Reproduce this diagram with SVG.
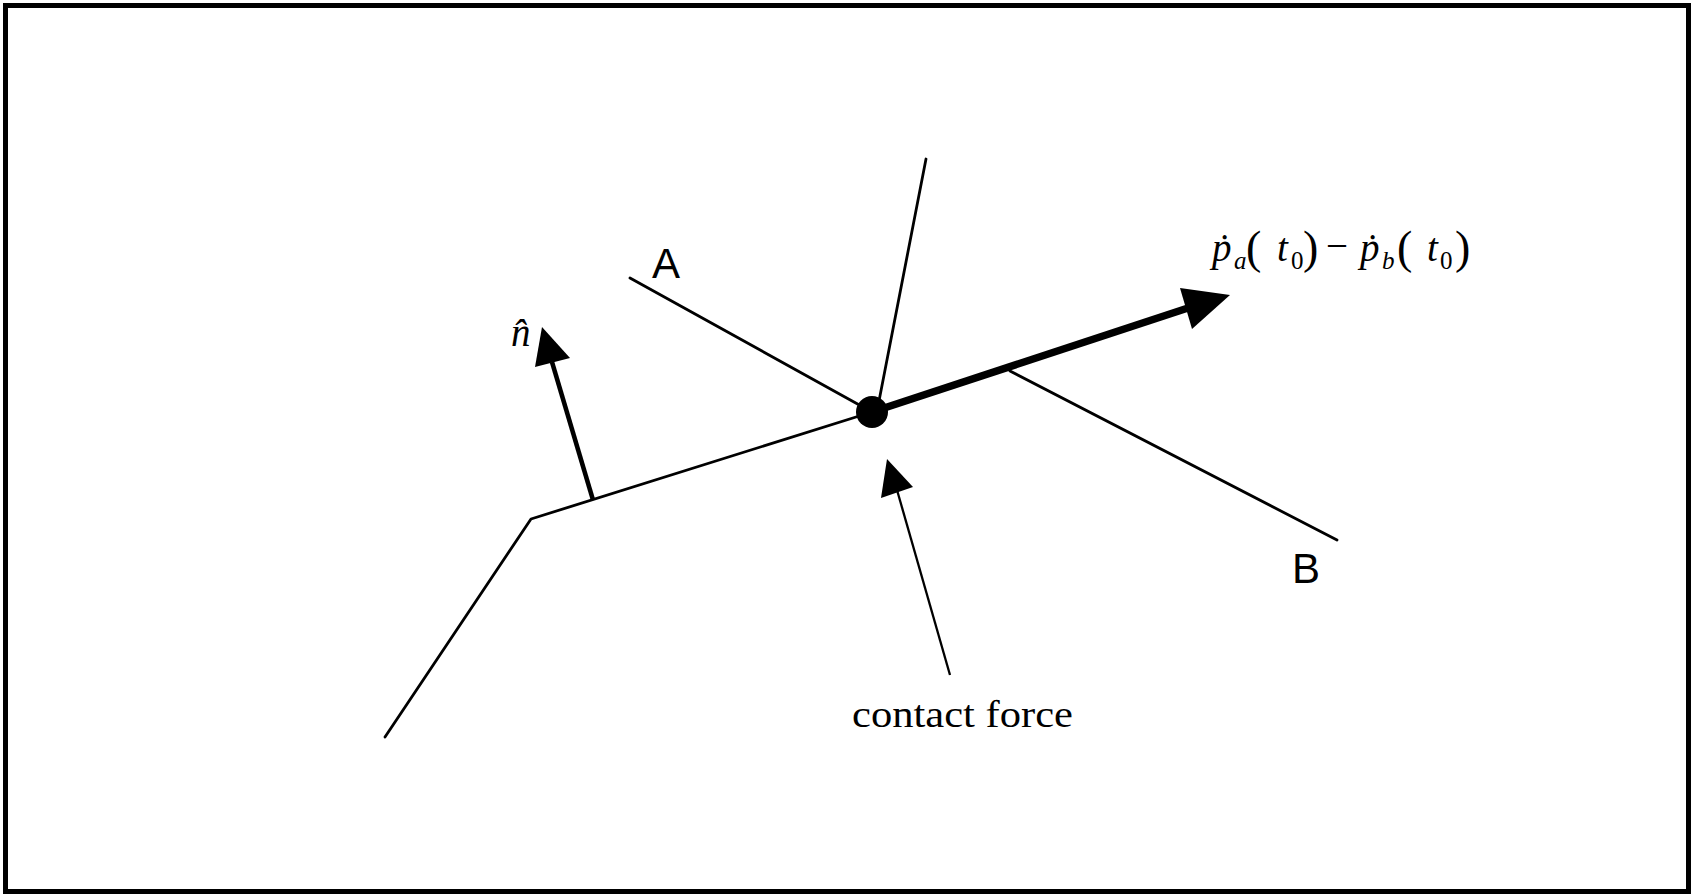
<svg xmlns="http://www.w3.org/2000/svg" width="1692" height="895" viewBox="0 0 1692 895">
<style>
.thin{stroke:#000;stroke-width:2.8;fill:none;stroke-linecap:round;stroke-linejoin:round}
.sans{font-family:"Liberation Sans",Arial,sans-serif;font-size:42px;fill:#000}
.serif{font-family:"Liberation Serif","Times New Roman","DejaVu Serif",serif;fill:#000}
.it{font-style:italic}
.m{font-size:39px}
.s{font-size:25px}
.par{font-size:46px}
</style>
<rect x="5.5" y="5.5" width="1683" height="886" fill="#fff" stroke="#000" stroke-width="5"/>
<g id="surface-lower">
<polyline class="thin" points="385,737 531,519 872,412"/>
</g>
<g id="surface-A">
<line class="thin" x1="630" y1="278" x2="872" y2="412"/>
</g>
<g id="surface-vertical">
<line class="thin" x1="926" y1="159" x2="879" y2="401"/>
</g>
<g id="surface-B">
<line class="thin" x1="1010" y1="371" x2="1337" y2="540"/>
</g>
<g id="connectors">
<line x1="593" y1="500" x2="552" y2="362" stroke="#000" stroke-width="4.5"/>
<polygon points="542,327 535,367 570,358" fill="#000"/>
<line x1="872" y1="412" x2="1188" y2="308" stroke="#000" stroke-width="7.5"/>
<polygon points="1230,295 1180,288 1192,329" fill="#000"/>
<line x1="950" y1="675" x2="897" y2="490" stroke="#000" stroke-width="2.3"/>
<polygon points="887,459 881,498 913,487" fill="#000"/>
</g>
<g id="contact-point">
<circle cx="872" cy="412" r="16" fill="#000"/>
</g>
<g id="label-A"><text class="sans" x="652" y="278">A</text></g>
<g id="label-B"><text class="sans" x="1292" y="583">B</text></g>
<g id="label-n">
<text class="serif it m" x="511" y="346">n̂</text>
</g>
<g id="label-velocity">
<text class="serif m"><tspan class="it" x="1212" y="261">ṗ</tspan><tspan class="it s" x="1234" y="269">a</tspan><tspan class="par" x="1246" y="263">(</tspan><tspan class="it" x="1277" y="261">t</tspan><tspan class="s" x="1291" y="269">0</tspan><tspan class="par" x="1303" y="263">)</tspan><tspan x="1326" y="259">−</tspan><tspan class="it" x="1360" y="261">ṗ</tspan><tspan class="it s" x="1382" y="269">b</tspan><tspan class="par" x="1397" y="263">(</tspan><tspan class="it" x="1427" y="261">t</tspan><tspan class="s" x="1440" y="269">0</tspan><tspan class="par" x="1455" y="263">)</tspan></text>
</g>
<g id="label-contact-force">
<text class="serif" font-size="38" x="852" y="727" textLength="221" lengthAdjust="spacingAndGlyphs">contact force</text>
</g>
</svg>
